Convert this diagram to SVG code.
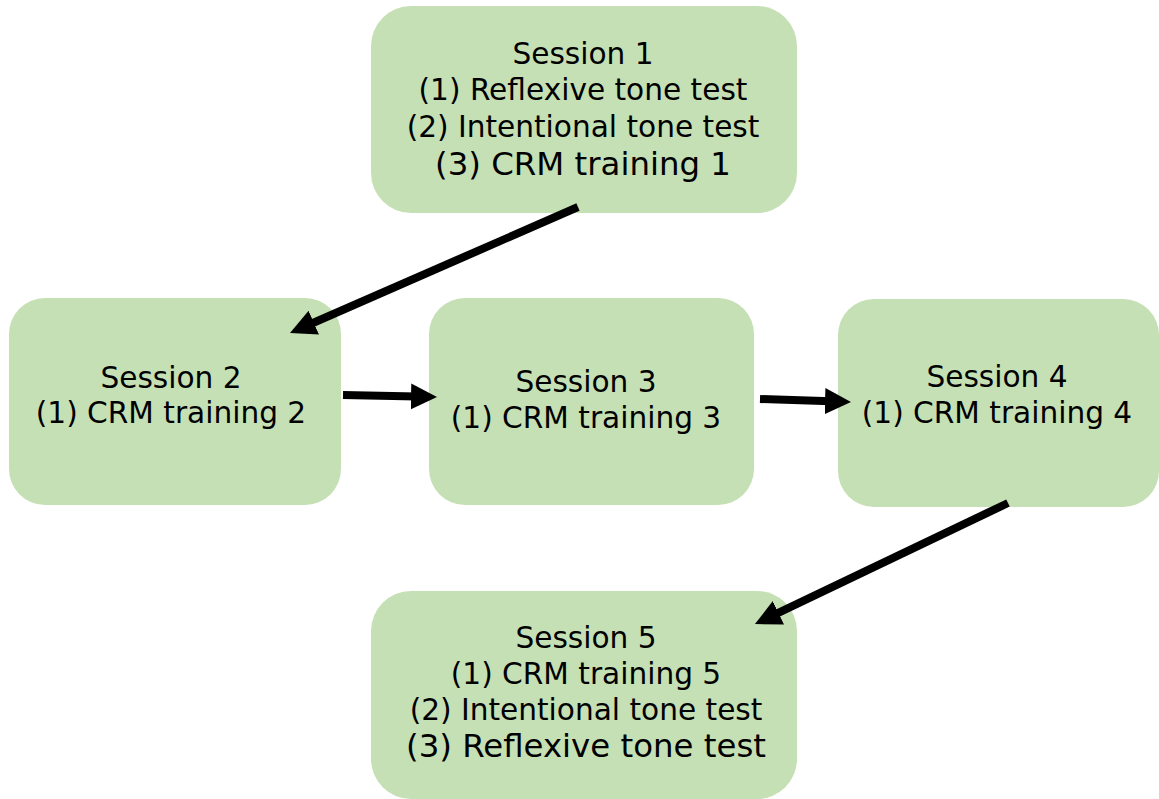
<svg xmlns="http://www.w3.org/2000/svg" width="1159" height="799" viewBox="0 0 1159 799">
  <style>
    .box { fill: #c5e0b4; }
    .lbl { font-family: "DejaVu Sans", Verdana, sans-serif; font-size: 29.6px; fill: #000; text-anchor: middle; }
    .big { font-size: 32.4px; }
    .conn { stroke: #000; stroke-width: 8; fill: none; }
  </style>
  <defs>
    <!-- arrowhead: tip sits 20px past the line end so the stroke stays hidden inside it -->
    <marker id="arrow" markerUnits="userSpaceOnUse" markerWidth="30" markerHeight="28" refX="6" refY="13" orient="auto">
      <path d="M0,0 L26,13 L0,26 Z" fill="#000"/>
    </marker>
  </defs>

  <g id="session1">
    <rect class="box" x="371" y="6" width="426" height="207" rx="40" ry="40"/>
    <text class="lbl" x="583" y="64">Session 1</text>
    <text class="lbl" x="583" y="100">(1) Reflexive tone test</text>
    <text class="lbl" x="583" y="137">(2) Intentional tone test</text>
    <text class="lbl big" x="583" y="175">(3) CRM training 1</text>
  </g>

  <g id="session2">
    <rect class="box" x="9" y="298" width="332" height="207" rx="36" ry="36"/>
    <text class="lbl" x="171" y="388">Session 2</text>
    <text class="lbl" x="171" y="423">(1) CRM training 2</text>
  </g>

  <g id="session3">
    <rect class="box" x="429" y="298" width="325" height="207" rx="36" ry="36"/>
    <text class="lbl" x="586" y="392">Session 3</text>
    <text class="lbl" x="586" y="428">(1) CRM training 3</text>
  </g>

  <g id="session4">
    <rect class="box" x="838" y="299" width="321" height="208" rx="36" ry="36"/>
    <text class="lbl" x="997" y="387">Session 4</text>
    <text class="lbl" x="997" y="423">(1) CRM training 4</text>
  </g>

  <g id="session5">
    <rect class="box" x="371" y="591" width="426" height="208" rx="40" ry="40"/>
    <text class="lbl" x="586" y="648">Session 5</text>
    <text class="lbl" x="586" y="684">(1) CRM training 5</text>
    <text class="lbl" x="586" y="720">(2) Intentional tone test</text>
    <text class="lbl big" x="586" y="757">(3) Reflexive tone test</text>
  </g>

  <g id="connectors">
    <line class="conn" x1="578" y1="207" x2="308.3" y2="325" marker-end="url(#arrow)"/>
    <line class="conn" x1="343" y1="395" x2="417" y2="396.6" marker-end="url(#arrow)"/>
    <line class="conn" x1="760" y1="399" x2="831" y2="401.3" marker-end="url(#arrow)"/>
    <line class="conn" x1="1008" y1="503" x2="773" y2="615.4" marker-end="url(#arrow)"/>
  </g>
</svg>
